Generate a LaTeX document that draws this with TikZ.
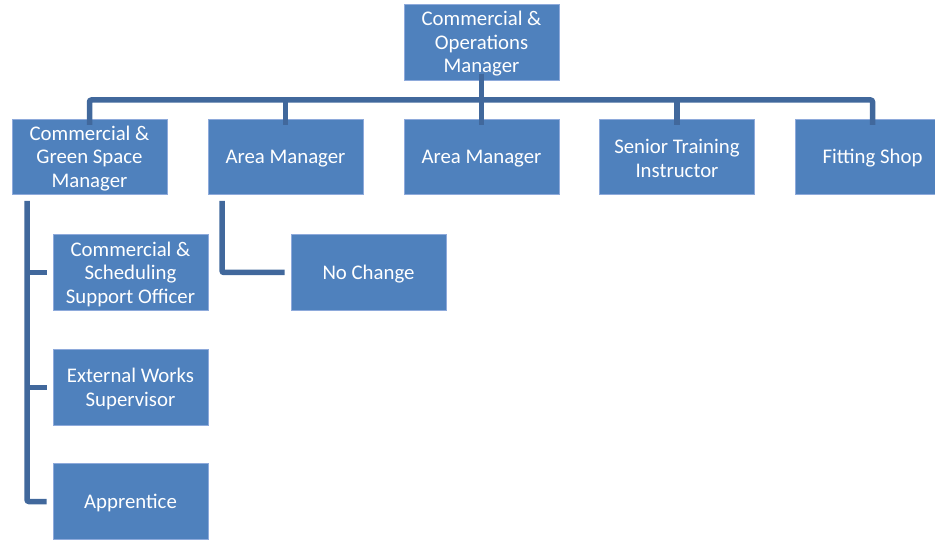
\documentclass[tikz,border=0pt]{standalone}
\usepackage{fontspec}
\setmainfont{Carlito}
\definecolor{boxfill}{HTML}{4F81BD}
\definecolor{boxline}{HTML}{8EAADB}
\definecolor{conn}{HTML}{41689C}
\begin{document}
\begin{tikzpicture}[x=1pt,y=-1pt,
  orgbox/.style={rectangle,fill=boxfill,draw=boxline,line width=0.6pt,minimum width=155pt,minimum height=75.5pt,inner sep=0pt,text=white,align=center,font=\fontsize{20.8}{23.5}\selectfont},
  lbl/.style={yshift=-1.5pt},
  link/.style={draw=conn,line width=5.5pt,rounded corners=2pt}]
\useasboundingbox (0,0) rectangle (935,540);
\clip (0,0) rectangle (935,540);
\node[orgbox] (top) at (481.5,42.5) {};
\node[orgbox] (b1) at (89.5,157) {};
\node[orgbox] (b2) at (285.5,157) {};
\node[orgbox] (b3) at (481.5,157) {};
\node[orgbox] (b4) at (677,157) {};
\node[orgbox] (b5) at (872.5,157) {};
\node[orgbox] (c1) at (130.5,272.5) {};
\node[orgbox] (c2) at (130.5,387.5) {};
\node[orgbox] (c3) at (130.5,501.5) {};
\node[orgbox] (nc) at (368.5,272.5) {};
\node[orgbox,draw=none,fill=none,lbl] (ttop) at (top) {Commercial \&\\Operations\\Manager};
\node[orgbox,draw=none,fill=none,lbl] (tb1) at (b1) {Commercial \&\\Green Space\\Manager};
\node[orgbox,draw=none,fill=none,lbl] (tb2) at (b2) {Area Manager};
\node[orgbox,draw=none,fill=none,lbl] (tb3) at (b3) {Area Manager};
\node[orgbox,draw=none,fill=none,lbl] (tb4) at (b4) {Senior Training\\Instructor};
\node[orgbox,draw=none,fill=none,lbl] (tb5) at (b5) {Fitting Shop};
\node[orgbox,draw=none,fill=none,lbl] (tc1) at (c1) {Commercial \&\\Scheduling\\Support Officer};
\node[orgbox,draw=none,fill=none,lbl] (tc2) at (c2) {External Works\\Supervisor};
\node[orgbox,draw=none,fill=none,lbl] (tc3) at (c3) {Apprentice};
\node[orgbox,draw=none,fill=none,lbl] (tnc) at (nc) {No Change};
% top connectors
\coordinate (hl) at (89.5,100);
\coordinate (hr) at (872.5,100);
\draw[link] ([yshift=-6pt]b1.north) -- (hl) -- (hr) -- ([yshift=-6pt]b5.north);
\draw[link] ([yshift=7pt]top.south) -- ([yshift=-6pt]b3.north);
\draw[link] (b2.north |- hl) -- ([yshift=-6pt]b2.north);
\draw[link] (b4.north |- hl) -- ([yshift=-6pt]b4.north);
% left branch
\coordinate (lv) at (27,201);
\draw[link] (lv) -- (lv |- c3.west) -- ([xshift=-6pt]c3.west);
\draw[link] (lv |- c1.west) -- ([xshift=-6pt]c1.west);
\draw[link] (lv |- c2.west) -- ([xshift=-6pt]c2.west);
% area manager branch
\coordinate (av) at (222,201);
\draw[link] (av) -- (av |- nc.west) -- ([xshift=-6pt]nc.west);
\end{tikzpicture}
\end{document}
